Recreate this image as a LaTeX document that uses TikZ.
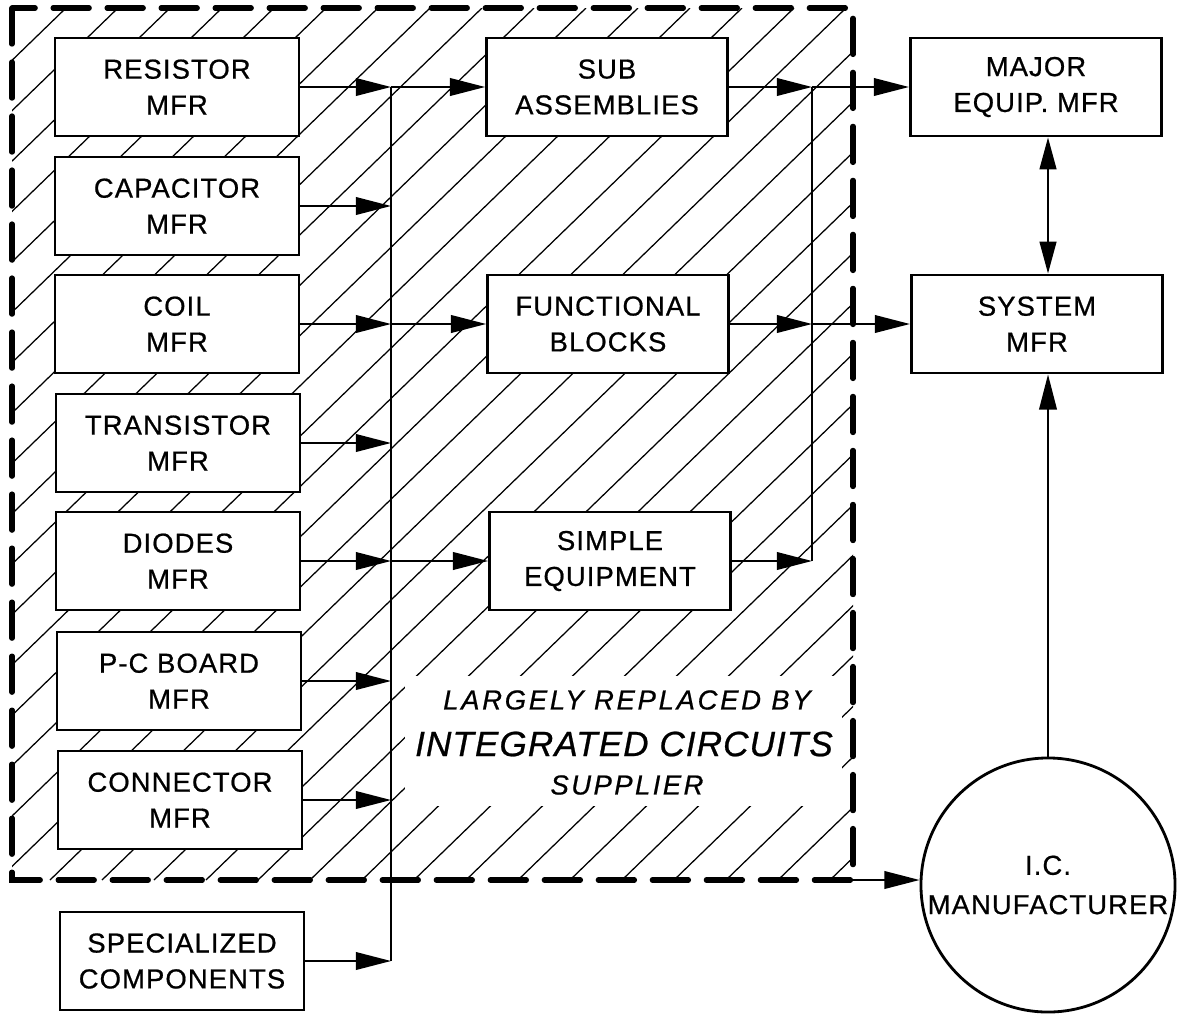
\documentclass[tikz,border=0pt]{standalone}
\usepackage{fontspec}
\setmainfont{Liberation Sans}
\newfontfamily\lettering{Liberation Sans}[FakeBold=0.7, LetterSpace=4]
\usetikzlibrary{arrows.meta, positioning, calc}

\tikzset{
  mfrbox/.style={draw, line width=2pt, fill=white, minimum width=6.1cm,
    minimum height=2.45cm, inner sep=0pt, align=center,
    font=\lettering\fontsize{19.5}{25.5}\selectfont},
  flow/.style={line width=1.4pt, -{Triangle[length=0.88cm, width=0.44cm]}},
  hatch/.style={line width=0.9pt},
}

\begin{document}
\begin{tikzpicture}[x=0.025cm, y=-0.025cm]
  \useasboundingbox (0,0) rectangle (1177,1014);

  % hatching of the replaced area
  \begin{scope}
    \clip (12,8) rectangle (853,880);
    \foreach \k in {-19,...,16}
      \draw[hatch] (50+52*\k,880) -- ++(900,-872);
  \end{scope}
  \fill[white] (405,676) rectangle (842,806);
  \draw[line width=3.8pt, dash pattern=on 0.9cm off 0.45cm, line cap=round]
    (12,8) rectangle (853,880);
  \coordinate (corner) at (853,880);

  % component makers
  \node[mfrbox] (res)  at (177,87)  {RESISTOR\\MFR};
  \node[mfrbox] (cap)  at (177,206) {CAPACITOR\\MFR};
  \node[mfrbox] (coil) at (177,324) {COIL\\MFR};
  \node[mfrbox] (tra)  at (178,443) {TRANSISTOR\\MFR};
  \node[mfrbox] (dio)  at (178,561) {DIODES\\MFR};
  \node[mfrbox] (pcb)  at (179,681) {P-C BOARD\\MFR};
  \node[mfrbox] (con)  at (180,800) {CONNECTOR\\MFR};
  \node[mfrbox] (spec) at (182,961) {SPECIALIZED\\COMPONENTS};

  % assemblers
  \node[mfrbox, minimum width=6.02cm] (sub)    at (607,87)  {SUB\\ASSEMBLIES};
  \node[mfrbox, minimum width=6.02cm] (func)   at (608,324) {FUNCTIONAL\\BLOCKS};
  \node[mfrbox, minimum width=6.02cm] (simple) at (610,561) {SIMPLE\\EQUIPMENT};

  % users
  \node[mfrbox, minimum width=6.28cm] (major) at (1036,87)  {MAJOR\\EQUIP.\ MFR};
  \node[mfrbox, minimum width=6.28cm] (sys)   at (1037,324) {SYSTEM\\MFR};
  \node[draw, circle, line width=2pt, fill=white, minimum size=6.35cm,
    inner sep=0pt, align=center, font=\lettering\fontsize{19.5}{28}\selectfont]
    (ic) at (1048,885) {I.C.\\MANUFACTURER};

  % buses
  \coordinate (lbus) at (391,0);
  \coordinate (rbus) at (812,0);
  \draw[line width=1.4pt] (res.east -| lbus) -- (spec.east -| lbus);
  \draw[line width=1.4pt] (sub.east -| rbus) -- (simple.east -| rbus);

  \foreach \n in {res,cap,coil,tra,dio,pcb,con,spec}
    \draw[flow] (\n.east) -- (\n.east -| lbus);
  \foreach \n in {sub,func,simple}
    \draw[flow] (\n.west -| lbus) -- (\n.west);
  \foreach \n in {sub,func,simple}
    \draw[flow] (\n.east) -- (\n.east -| rbus);
  \draw[flow] (major.west -| rbus) -- (major.west);
  \draw[flow] (sys.west -| rbus) -- (sys.west);

  \draw[line width=1.4pt, {Triangle[length=0.8cm, width=0.42cm]}-{Triangle[length=0.8cm, width=0.42cm]}]
    (ic.north |- major.south) -- (ic.north |- sys.north);
  \draw[flow] (ic.north) -- (ic.north |- sys.south);
  \draw[flow] (corner) -- (corner -| ic.west);

  % caption of the hatched area
  \node[font=\lettering\itshape\addfontfeature{LetterSpace=10}\fontsize{19.5}{24}\selectfont]
    (lrb) at (627,700) {LARGELY REPLACED BY};
  \node[font=\lettering\itshape\addfontfeature{LetterSpace=3}\fontsize{25}{30}\selectfont]
    (icl) at (624,744) {INTEGRATED CIRCUITS};
  \node[font=\lettering\itshape\addfontfeature{LetterSpace=9}\fontsize{19.5}{24}\selectfont]
    (supl) at (627,785) {SUPPLIER};
\end{tikzpicture}
\end{document}
